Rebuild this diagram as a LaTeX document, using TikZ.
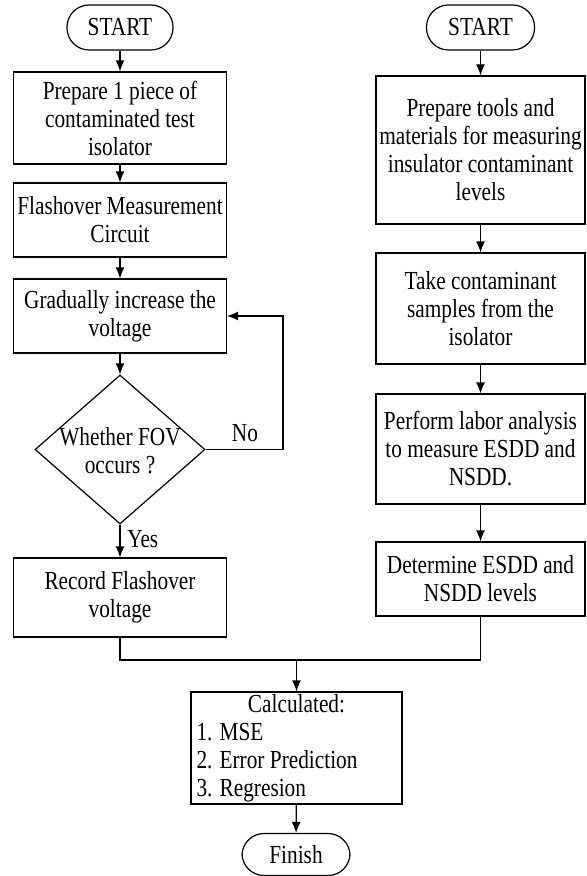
\documentclass[tikz,border=0pt]{standalone}
\usepackage{fontspec}
\setmainfont{Liberation Serif}[FakeStretch=0.82]
\usetikzlibrary{shapes.geometric, arrows.meta}

\tikzset{
    flowline/.style={line width=0.6pt, -{Latex[length=5.5pt,width=4.5pt]}},
    joinline/.style={line width=0.6pt},
    terminal/.style={draw, line width=0.6pt, rounded corners=11pt, minimum height=22.5pt, inner sep=1pt},
    process/.style={draw, line width=0.6pt, align=center, inner sep=1pt},
    decision/.style={draw, line width=0.6pt, diamond, minimum width=85pt, minimum height=74.5pt, inner sep=0pt},
}

\begin{document}
\begin{tikzpicture}[x=0.5pt, y=-0.5pt, font=\fontsize{13}{14}\selectfont]
            \useasboundingbox (0,0) rectangle (587,876);

            \node[terminal, minimum width=53pt] (startL) at (120,27.5) {START};
            \node[process, minimum width=106.5pt, minimum height=46pt] (prepL) at (120,118) {Prepare 1 piece of\\contaminated test\\isolator};
            \node[process, minimum width=106.5pt, minimum height=37pt] (circ) at (120,220) {Flashover Measurement\\Circuit};
            \node[process, minimum width=106.5pt, minimum height=37pt] (incr) at (120,316) {Gradually increase the\\voltage};
            \node[decision] (fov) at (120,449.5) {};
            \node[align=center] (fovText) at (120,451) {Whether FOV\\occurs ?};
            \node[process, minimum width=106.5pt, minimum height=39.5pt] (rec) at (120,597.5) {Record Flashover\\voltage};

            \node[terminal, minimum width=54pt] (startR) at (480.5,27.5) {START};
            \node[process, minimum width=104.5pt, minimum height=74pt] (prepR) at (480.5,150) {Prepare tools and\\materials for measuring\\insulator contaminant\\levels};
            \node[process, minimum width=104.5pt, minimum height=55.5pt] (samp) at (480.5,308.5) {Take contaminant\\samples from the\\isolator};
            \node[process, minimum width=104.5pt, minimum height=55pt] (lab) at (480.5,449) {Perform labor analysis\\to measure ESDD and\\NSDD.};
            \node[process, minimum width=104.5pt, minimum height=37pt] (det) at (480.5,579) {Determine ESDD and\\NSDD levels};

            \node[process, align=left, inner xsep=2.75pt, minimum height=56pt] (calc) at (296.5,748) {\makebox[100pt]{Calculated:}\\1. MSE\\2. Error Prediction\\3. Regresion};
            \node[terminal, minimum width=54pt, minimum height=21pt] (fin) at (296,854.5) {Finish};

            \coordinate (loopTop) at (283,316);
            \coordinate (merge) at (296.5,660);

            \draw[flowline] (startL) -- (prepL);
            \draw[flowline] (prepL) -- (circ);
            \draw[flowline] (circ) -- (incr);
            \draw[flowline] (incr) -- (fov.north);
            \draw[flowline] (fov.south) -- (rec) node[pos=0.45, right] {Yes};
            \draw[flowline] (fov.east) -| (loopTop) -- (incr.east);
            \node (no) at (245,433) {No};

            \draw[flowline] (startR) -- (prepR);
            \draw[flowline] (prepR) -- (samp);
            \draw[flowline] (samp) -- (lab);
            \draw[flowline] (lab) -- (det);

            \draw[joinline] (rec.south) |- (merge) -| (det.south);
            \draw[flowline] (merge) -- (calc.north);
            \draw[flowline] (calc) -- (fin);
        \end{tikzpicture}
\end{document}
